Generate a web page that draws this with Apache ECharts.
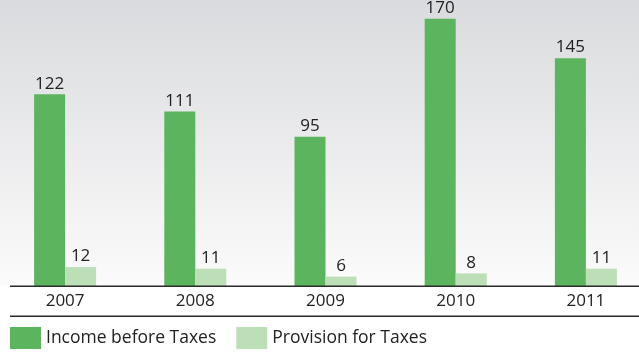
<!DOCTYPE html>
<html><head><meta charset="utf-8">
<script src="https://cdn.jsdelivr.net/npm/echarts@6/dist/echarts.min.js"></script>
<style>html,body{margin:0;padding:0;background:#fff}#c{width:639px;height:353px}</style>
</head><body><div id="c"></div>
<script>
const categories = ['2007','2008','2009','2010','2011'];
const incomeBeforeTaxes = [122,111,95,170,145];
const provisionForTaxes = [12,11,6,8,11];
const seriesNames = ['Income before Taxes','Provision for Taxes'];

const chart = echarts.init(document.getElementById('c'));
const font = 'Open Sans';
chart.setOption({
  animation:false,
  backgroundColor:'#ffffff',
  graphic:[
    {type:'rect',z:-10,shape:{x:0,y:0,width:639,height:286},
     style:{fill:new echarts.graphic.LinearGradient(0,0,0,1,[{offset:0,color:'#dadbde'},{offset:1,color:'#fbfbfb'}])}},
    {type:'rect',z:10,shape:{x:10,y:285.5,width:629,height:1.5},style:{fill:'#2a2a2a'}},
    {type:'rect',z:10,shape:{x:10,y:315.5,width:629,height:1.5},style:{fill:'#2a2a2a'}}
  ],
  grid:{left:0,right:-12,top:0,bottom:67,containLabel:false,outerBoundsMode:'none'},
  legend:{left:10,top:327,padding:0,itemWidth:31,itemHeight:22,itemGap:20,icon:'rect',
    textStyle:{fontFamily:font,fontSize:17.5,color:'#222'},
    data:seriesNames},
  xAxis:{type:'category',data:categories,axisLine:{show:false},axisTick:{show:false},
    axisLabel:{fontFamily:font,fontSize:17,color:'#222',margin:7}},
  yAxis:{type:'value',min:0,max:182,show:false,splitLine:{show:false}},
  series:[
    {name:seriesNames[0],type:'bar',data:incomeBeforeTaxes,barWidth:31,barGap:'0%',
     itemStyle:{color:'#5cb45f'},
     label:{show:true,position:'top',distance:2,fontFamily:font,fontSize:17,color:'#222'}},
    {name:seriesNames[1],type:'bar',data:provisionForTaxes,barWidth:31,
     itemStyle:{color:'#bcdfb8'},
     label:{show:true,position:'top',distance:2,fontFamily:font,fontSize:17,color:'#222'}}
  ]
});
</script></body></html>
